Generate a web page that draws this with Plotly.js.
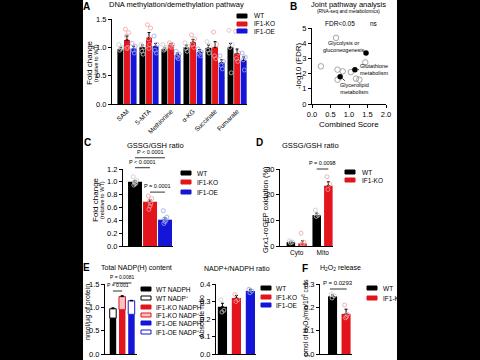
<!DOCTYPE html>
<html><head><meta charset="utf-8">
<script src="https://cdn.plot.ly/plotly-3.0.1.min.js"></script>
<style>html,body{margin:0;padding:0;background:#fff;}#chart{width:480px;height:360px;}</style>
</head><body><div id="chart"></div>
<script>
// ================= DATA =================
const seriesNames = ['WT', 'IF1-KO', 'IF1-OE'];
// Panel A
const methCats = ['SAM', '5-MTA', 'Methionine', 'α-KG', 'Succinate', 'Fumarate'];
const methWT = [0.97, 1.00, 0.97, 1.00, 0.99, 1.00];
const methKO = [1.13, 1.17, 1.04, 1.09, 1.00, 0.89];
const methOE = [0.98, 1.02, 0.87, 0.92, 0.73, 0.77];
const methWTerr = [0.03, 0.04, 0.02, 0.04, 0.05, 0.07];
const methKOerr = [0.07, 0.09, 0.03, 0.05, 0.10, 0.08];
const methOEerr = [0.04, 0.05, 0.03, 0.04, 0.05, 0.06];
const methWTpts = [[1.05, 1.00, 0.95, 0.98], [1.05, 1.00, 0.93, 0.88], [1.05, 1.00, 0.95, 0.97], [1.08, 1.02, 0.98, 0.93], [1.10, 1.03, 0.95, 0.90], [1.30, 1.05, 1.00, 0.55]];
const methKOpts = [[1.32, 1.26, 1.20, 1.00, 0.98], [1.40, 1.34, 1.15, 1.05, 0.98], [1.08, 1.05, 1.02, 1.00], [1.22, 1.15, 1.05, 1.00], [1.27, 1.05, 0.85, 0.80], [1.28, 0.90, 0.80, 0.75]];
const methOEpts = [[1.07, 1.02, 0.95, 0.90], [1.20, 1.05, 0.95, 0.90], [0.93, 0.88, 0.83, 0.80], [0.97, 0.92, 0.88, 0.85], [0.85, 0.75, 0.68, 0.62], [0.90, 0.83, 0.78, 0.60]];
// Panel B
const bNsX = [0.65, 0.24, 0.69, 0.83, 0.69, 1.05, 1.44, 1.19, 1.28];
const bNsY = [4.35, 2.48, 2.26, 2.15, 1.60, 2.10, 2.74, 1.67, 1.60];
const bSigX = [1.46, 1.16, 0.76];
const bSigY = [3.35, 2.26, 1.80];
const bSigNames = ['Glycolysis or<br>gluconeogenesis', 'Glutathione<br>metabolism', 'Glycerolipid<br>metabolism'];
const bLegend = ['FDR<0.05', 'ns'];
// Panel C
const cVals = [1.00, 0.69, 0.41];
const cErr = [0.02, 0.03, 0.03];
const cPts = [[1.08, 1.02, 1.00, 0.98, 0.97, 0.95], [0.78, 0.74, 0.70, 0.66, 0.62, 0.57], [0.55, 0.45, 0.42, 0.40, 0.38, 0.35]];
const cPvals = ['P < 0.0001', 'P < 0.0001', 'P = 0.0001'];
// Panel D
const dCats = ['Cyto', 'Mito'];
const dWT = [1.5, 12.0];
const dKO = [1.0, 23.5];
const dWTerr = [0.3, 0.8];
const dKOerr = [1.0, 1.5];
const dWTpts = [[2.0, 1.5, 1.2], [14.0, 12.0, 11.5]];
const dKOpts = [[5.0, 1.5, 0.8, 0.5], [27.0, 24.0, 22.0]];
const dPval = 'P = 0.0098';
// Panel E (stacked)
const eNames = ['WT NADPH', 'WT NADP⁺', 'IF1-KO NADPH', 'IF1-KO NADP⁺', 'IF1-OE NADPH', 'IF1-OE NADP⁺'];
const eNADPH = [0.77, 0.95, 0.85];
const eNADP = [0.20, 0.28, 0.29];
const eErr = [0.02, 0.02, 0.01];
const ePvals = ['P = 0.0081', 'P = 0.001'];
// Panel E2
const e2Vals = [0.27, 0.32, 0.36];
const e2Err = [0.02, 0.015, 0.01];
const e2Pts = [[0.31, 0.25, 0.24], [0.34, 0.31, 0.30], [0.37, 0.36, 0.35]];
// Panel F
const fNames = ['WT', 'IF1-KO'];
const fVals = [0.247, 0.172];
const fErr = [0.006, 0.02];
const fPts = [[0.255, 0.25, 0.24], [0.21, 0.17, 0.155, 0.16]];
const fPval = 'P = 0.0293';

// ================= LAYOUT HELPERS =================
const W = 480, H = 360;
const FONT = 'Liberation Sans, Arial, sans-serif';
const barCol = ['#000000', '#e3141b', '#1515d8'];
const dotCol = ['#c8c8c8', '#f4a0a0', '#9aa4f0'];
function panel(id, x0, x1, y0, y1, xr, yr) { return {id, x0, x1, y0, y1, xr, yr}; }
const P = {
  A: panel(1, 112, 247, 19, 104, [-0.68, 5.45], [0, 1.5]),
  B: panel(2, 312, 386, 28, 104, [0, 2], [0, 5]),
  C: panel(3, 123, 173, 169, 246, [-0.8, 2.53], [0, 1.2]),
  D: panel(4, 280, 333, 169, 246, [-0.65, 1.4], [0, 30]),
  E: panel(5, 105, 137, 284, 354, [-0.86, 2.6], [0, 1.5]),
  E2: panel(6, 216, 256, 284, 354, [-0.46, 2.4], [0, 0.4]),
  F: panel(7, 320, 352, 284, 354, [-0.93, 1.44], [0, 0.3])
};
const toPX = (p, v) => (p.x0 + (v - p.xr[0]) / (p.xr[1] - p.xr[0]) * (p.x1 - p.x0)) / W;
const toPY = (p, v) => 1 - (p.y1 - (v - p.yr[0]) / (p.yr[1] - p.yr[0]) * (p.y1 - p.y0)) / H;
const axName = (p, c) => c + (p.id === 1 ? '' : p.id);

const layout = {
  width: W, height: H, margin: {l: 0, r: 0, t: 0, b: 0},
  paper_bgcolor: '#fff', plot_bgcolor: 'rgba(0,0,0,0)',
  showlegend: false, barmode: 'overlay',
  font: {family: FONT, color: '#000', size: 7},
  shapes: [], annotations: []
};
function baseAxis(extra) {
  return Object.assign({showline: true, linecolor: '#000', linewidth: 1, ticks: 'outside', ticklen: 3,
    tickwidth: 1, tickcolor: '#000', showgrid: false, zeroline: false, fixedrange: true,
    tickfont: {family: FONT, size: 7.5, color: '#000'}}, extra || {});
}
function setAxes(p, xExtra, yExtra) {
  const xn = 'xaxis' + (p.id === 1 ? '' : p.id), yn = 'yaxis' + (p.id === 1 ? '' : p.id);
  layout[xn] = baseAxis(Object.assign({domain: [p.x0 / W, p.x1 / W], range: p.xr, anchor: axName(p, 'y')}, xExtra));
  layout[yn] = baseAxis(Object.assign({domain: [1 - p.y1 / H, 1 - p.y0 / H], range: p.yr, anchor: axName(p, 'x')}, yExtra));
}
function ann(text, xpx, ypx, opts) {
  layout.annotations.push(Object.assign({text, x: xpx / W, y: 1 - ypx / H, xref: 'paper', yref: 'paper',
    showarrow: false, font: {family: FONT, size: 7.5, color: '#000'}, xanchor: 'center', yanchor: 'middle'}, opts || {}));
}
function yTitle(text, xpx, ypx, size) { ann(text, xpx, ypx, {textangle: -90, font: {family: FONT, size: size || 7.5, color: '#000'}}); }
function letter(t, xpx, ypx) { ann('<b>' + t + '</b>', xpx, ypx, {font: {family: FONT, size: 10, color: '#000'}}); }
function bracket(p, xa, xb, yv, text, tsize) {
  layout.shapes.push({type: 'line', xref: 'paper', yref: 'paper', x0: toPX(p, xa), x1: toPX(p, xb), y0: toPY(p, yv), y1: toPY(p, yv), line: {color: '#000', width: 0.8}});
  layout.annotations.push({text, xref: 'paper', yref: 'paper', x: (toPX(p, xa) + toPX(p, xb)) / 2, y: toPY(p, yv) + 1 / H,
    showarrow: false, xanchor: 'center', yanchor: 'bottom', font: {family: FONT, size: tsize || 5.5, color: '#000'}});
}
function legendItem(text, sx, ty, fill, stroke, textX) {
  layout.shapes.push({type: 'rect', xref: 'paper', yref: 'paper', x0: sx / W, x1: (sx + 10) / W, y0: 1 - (ty + 2) / H, y1: 1 - (ty - 2) / H,
    fillcolor: fill, line: {color: stroke, width: 1}, layer: 'above'});
  ann(text, textX, ty, {xanchor: 'left', font: {family: FONT, size: 6.5, color: '#000'}});
}
const traces = [];
function bars(p, xs, ys, err, color, width, extra) {
  traces.push(Object.assign({type: 'bar', x: xs, y: ys, width: width, xaxis: axName(p, 'x'), yaxis: axName(p, 'y'),
    marker: {color: color, line: {width: 0}},
    error_y: err ? {type: 'data', symmetric: false, array: err, arrayminus: err.map(() => 0), color: '#000', thickness: 1, width: 1.5} : undefined,
    hoverinfo: 'skip'}, extra || {}));
}
const jit = [-0.09, 0.09, -0.03, 0.04, 0.0, -0.06];
function dots(p, centers, ptsArr, color, spread) {
  const xs = [], ys = [];
  ptsArr.forEach((arr, i) => arr.forEach((v, k) => { xs.push(centers[i] + jit[k % jit.length] * (spread || 1)); ys.push(v); }));
  traces.push({type: 'scatter', mode: 'markers', x: xs, y: ys, xaxis: axName(p, 'x'), yaxis: axName(p, 'y'), cliponaxis: false,
    marker: {symbol: 'circle-open', size: 4, color: color, line: {width: 0.8, color: color}}, hoverinfo: 'skip'});
}

// ================= PANEL A =================
{
  const p = P.A, off = [-0.3, 0, 0.3], w = 0.27;
  setAxes(p, {tickvals: methCats.map((_, i) => i), ticktext: methCats, tickangle: -45, ticks: '', tickfont: {family: FONT, size: 6.5, color: '#000'}},
    {tickvals: [0, 0.5, 1.0, 1.5], tickformat: '.1f'});
  const vals = [methWT, methKO, methOE], errs = [methWTerr, methKOerr, methOEerr], pts = [methWTpts, methKOpts, methOEpts];
  vals.forEach((v, s) => {
    const xs = methCats.map((_, i) => i + off[s]);
    bars(p, xs, v, errs[s], barCol[s], w);
    dots(p, xs, pts[s], dotCol[s], 0.8);
  });
  letter('A', 86, 6);
  ann('DNA methylation/demethylation pathway', 176, 5);
  yTitle('Fold change', 89, 63, 8);
  yTitle('(relative to WT)', 96, 63, 5.5);
  seriesNames.forEach((n, s) => legendItem(n, 237, [16, 24, 31][s], barCol[s], barCol[s], 252));
}
// ================= PANEL B =================
{
  const p = P.B;
  setAxes(p, {tickvals: [0, 0.5, 1, 1.5, 2], tickformat: '.1f'}, {tickvals: [0, 1, 2, 3, 4, 5]});
  traces.push({type: 'scatter', mode: 'markers', x: bNsX, y: bNsY, xaxis: 'x2', yaxis: 'y2', cliponaxis: false,
    marker: {symbol: 'circle-open', size: 5.5, color: '#9a9a9a', line: {width: 0.9, color: '#9a9a9a'}}, hoverinfo: 'skip'});
  traces.push({type: 'scatter', mode: 'markers', x: bSigX, y: bSigY, xaxis: 'x2', yaxis: 'y2', cliponaxis: false,
    marker: {symbol: 'circle', size: 5.5, color: '#000'}, hoverinfo: 'skip'});
  const axy = [[-22, -7], [20, 0], [14, 12]];
  bSigNames.forEach((n, i) => layout.annotations.push({text: n, x: bSigX[i], y: bSigY[i], xref: 'x2', yref: 'y2',
    showarrow: true, arrowhead: 0, arrowwidth: 0.8, arrowcolor: '#000', ax: axy[i][0], ay: axy[i][1], standoff: 3,
    font: {family: FONT, size: 5.5, color: '#000'}}));
  // legend row
  traces.push({type: 'scatter', mode: 'markers', x: [(316.7 - p.x0) / 37], y: [(p.y1 - 23.5) / 15.2], xaxis: 'x2', yaxis: 'y2', cliponaxis: false,
    marker: {symbol: 'circle-open', size: 5.5, color: '#9a9a9a', line: {width: 0.9, color: '#9a9a9a'}}, hoverinfo: 'skip'});
  ann(bLegend[0], 340, 23.5, {font: {family: FONT, size: 6.5, color: '#000'}});
  ann(bLegend[1], 374, 23.5, {font: {family: FONT, size: 6.5, color: '#000'}});
  letter('B', 293, 6);
  ann('Joint pathway analysis', 348, 5);
  ann('(RNA-seq and metabolomics)', 348, 11.5, {font: {family: FONT, size: 4.8, color: '#000'}});
  ann('Combined Score', 349, 124, {font: {family: FONT, size: 8, color: '#000'}});
  yTitle('-log10 (FDR)', 298, 66, 8);
}
// ================= PANEL C =================
{
  const p = P.C, xs = [0, 1, 2];
  setAxes(p, {showticklabels: false, ticks: ''}, {tickvals: [0, 0.2, 0.4, 0.6, 0.8, 1.0, 1.2], tickformat: '.1f'});
  xs.forEach((x, s) => bars(p, [x], [cVals[s]], [cErr[s]], barCol[s], 0.93));
  xs.forEach((x, s) => dots(p, [x], [cPts[s]], dotCol[s], 1.3));
  bracket(p, 0, 2, 1.375, cPvals[0]);
  bracket(p, 0, 1, 1.22, cPvals[1]);
  bracket(p, 1, 2, 0.84, cPvals[2]);
  letter('C', 87, 143);
  ann('GSSG/GSH ratio', 155, 145);
  yTitle('Fold change', 95, 200, 8);
  yTitle('(relative to WT)', 102, 200, 5.5);
  seriesNames.forEach((n, s) => legendItem(n, 181, [173, 182, 192][s], barCol[s], barCol[s], 195));
}
// ================= PANEL D =================
{
  const p = P.D, off = [-0.23, 0.22], w = 0.33;
  setAxes(p, {tickvals: [0, 1], ticktext: dCats, ticks: '', tickfont: {family: FONT, size: 6.5, color: '#000'}}, {tickvals: [0, 10, 20, 30]});
  [dWT, dKO].forEach((v, s) => {
    const xs = dCats.map((_, i) => i + off[s]);
    bars(p, xs, v, [dWTerr, dKOerr][s], barCol[s], w);
    dots(p, xs, [dWTpts, dKOpts][s], dotCol[s], 0.6);
  });
  bracket(p, 1 + off[0], 1 + off[1], 30, dPval);
  letter('D', 259, 143);
  ann('GSSG/GSH ratio', 310, 145);
  yTitle('Grx1-roGFP oxidation (%)', 265, 210, 7.5);
  seriesNames.slice(0, 2).forEach((n, s) => legendItem(n, 345, [172, 180][s], barCol[s], barCol[s], 360));
}
// ================= PANEL E =================
{
  const p = P.E, xs = [0, 1, 2], w = 0.7;
  setAxes(p, {showticklabels: false, ticks: ''}, {tickvals: [0, 0.5, 1.0, 1.5], tickformat: '.1f'});
  bars(p, xs, eNADPH, null, barCol, w);
  bars(p, xs, eNADP, eErr, ['#ffffff', '#f6c4c4', '#ffffff'], w, {base: eNADPH});
  traces[traces.length - 1].marker.line = {color: barCol, width: 1};
  bracket(p, 0, 2, (354 - 283) / 70 * 1.5, ePvals[0], 5);
  bracket(p, 0, 1, (354 - 291) / 70 * 1.5, ePvals[1], 5);
  letter('E', 86, 267);
  ann('Total NADP(H) content', 136, 268, {font: {family: FONT, size: 7, color: '#000'}});
  yTitle('nmol/μg of protein', 88, 312, 7);
  const fills = ['#000', '#fff', barCol[1], '#f6c4c4', barCol[2], '#fff'];
  const strokes = ['#000', '#000', barCol[1], barCol[1], barCol[2], barCol[2]];
  eNames.forEach((n, k) => legendItem(n, 141, [289, 298, 307, 315, 323, 332][k], fills[k], strokes[k], 154));
}
// ================= PANEL E2 =================
{
  const p = P.E2, xs = [0, 1, 2];
  setAxes(p, {showticklabels: false, ticks: ''}, {tickvals: [0, 0.1, 0.2, 0.3, 0.4], tickformat: '.1f'});
  xs.forEach((x, s) => bars(p, [x], [e2Vals[s]], [e2Err[s]], barCol[s], 0.66));
  xs.forEach((x, s) => dots(p, [x], [e2Pts[s]], dotCol[s], 1.2));
  ann('NADP+/NADPH ratio', 237, 268, {font: {family: FONT, size: 7, color: '#000'}});
  yTitle('Absolute ratio', 201, 317, 7);
  seriesNames.forEach((n, s) => legendItem(n, 261, [288, 297, 305][s], barCol[s], barCol[s], 274));
}
// ================= PANEL F =================
{
  const p = P.F, xs = [0, 1];
  setAxes(p, {showticklabels: false, ticks: ''}, {tickvals: [0, 0.1, 0.2, 0.3], tickformat: '.1f'});
  xs.forEach((x, s) => bars(p, [x], [fVals[s]], [fErr[s]], barCol[s], 0.67));
  xs.forEach((x, s) => dots(p, [x], [fPts[s]], dotCol[s], 1.2));
  bracket(p, -0.2, 1.05, 0.3 * (354 - 289) / 70, fPval, 6);
  letter('F', 305, 268);
  ann('H<sub>2</sub>O<sub>2</sub> release', 340, 268, {font: {family: FONT, size: 7, color: '#000'}});
  yTitle('pmol of H<sub>2</sub>O<sub>2</sub>/min/10<sup>6</sup> cells', 305, 318, 6.5);
  fNames.forEach((n, s) => legendItem(n, 367, [288, 298][s], barCol[s], barCol[s], 381));
}
// black side bands of the original image
layout.shapes.push({type: 'rect', xref: 'paper', yref: 'paper', x0: 0, x1: 83 / W, y0: 0, y1: 1, fillcolor: '#000', line: {width: 0}, layer: 'above'});
layout.shapes.push({type: 'rect', xref: 'paper', yref: 'paper', x0: 397 / W, x1: 1, y0: 0, y1: 1, fillcolor: '#000', line: {width: 0}, layer: 'above'});

Plotly.newPlot('chart', traces, layout, {staticPlot: true, displayModeBar: false});
</script></body></html>
